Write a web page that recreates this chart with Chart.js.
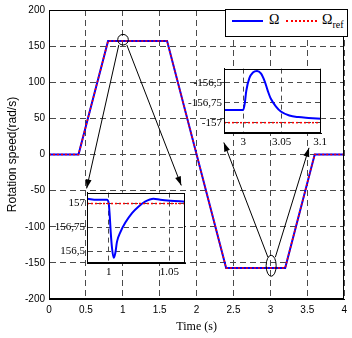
<!DOCTYPE html>
<html>
<head>
<meta charset="utf-8">
<script src="https://cdn.jsdelivr.net/npm/chart.js@4"></script>
<style>
  html, body { margin: 0; padding: 0; background: #fff; }
  #wrap { position: relative; width: 352px; height: 338px; }
  canvas { position: absolute; }
  #legend { position: absolute; left: 225px; top: 9px; width: 121px; height: 26px;
            border: 1px solid #000; background: #fff; font-family: 'Liberation Serif', serif; font-size: 14px; }
  #legend .ln { position: absolute; top: 10px; width: 31px; height: 0; }
  #legend .lb { position: absolute; top: 2px; line-height: 16px; }
  #legend sub { font-size: 10px; vertical-align: -4px; }
</style>
</head>
<body>
<div id="wrap">
  <canvas id="main" width="352" height="338" style="left:0;top:0"></canvas>
  <canvas id="zoomNeg" width="142" height="92" style="left:188px;top:60px"></canvas>
  <canvas id="zoomPos" width="140" height="98" style="left:50px;top:184px"></canvas>
  <div id="legend">
    <span class="ln" style="left:6px;border-top:2px solid #0000ff"></span>
    <span class="lb" style="left:43px">&Omega;</span>
    <span class="ln" style="left:60px;border-top:2px dotted #ff0000"></span>
    <span class="lb" style="left:96px">&Omega;<sub>ref</sub></span>
  </div>
</div>
<script>
// speed profile, whole run
const timeKnots = [0, 0.4, 0.8, 1.6, 2.4, 3.2, 3.6, 4];
const omegaRef  = [0, 0, 157, 157, -157, -157, 0, 0];
const omega     = [0, 0, 157, 157, -157, -157, 0, 0];
const xTicks = [0, 0.5, 1, 1.5, 2, 2.5, 3, 3.5, 4];
const yTicks = [-200, -150, -100, -50, 0, 50, 100, 150, 200];

// zoom near t = 1 s (reference step to +157)
const posTime  = [0.9825, 0.990, 0.9985, 1.0, 1.0008, 1.0016, 1.0027, 1.004, 1.0054, 1.0068, 1.0096,
                  1.0137, 1.0192, 1.0247, 1.030, 1.037, 1.0425, 1.0508, 1.063];
const posOmega = [157.05, 157.04, 157.04, 157.0, 156.87, 156.70, 156.53, 156.43, 156.48, 156.60, 156.70,
                  156.80, 156.90, 156.97, 157.02, 157.05, 157.04, 157.03, 157.02];
const posRef   = 157;
const posXTicks = [1, 1.05];
const posYTicks = [156.5, 156.75, 157];

// zoom near t = 3 s (reference at -157)
const negTime  = [2.975, 3.0, 3.002, 3.004, 3.008, 3.0126, 3.018, 3.023, 3.028, 3.032, 3.036,
                  3.043, 3.049, 3.06, 3.072, 3.085, 3.1015];
const negOmega = [-156.84, -156.84, -156.76, -156.60, -156.44, -156.37, -156.35, -156.38, -156.48, -156.60, -156.70,
                  -156.80, -156.86, -156.91, -156.93, -156.94, -156.95];
const negRef   = -157;
const negXTicks = [3, 3.05, 3.1];
const negYTicks = [-157, -156.75, -156.5];

const pts = (xs, ys) => xs.map((x, i) => ({ x: x, y: ys[i] }));
const setTicks = vals => s => { s.ticks = vals.map(v => ({ value: v })); };

// frame around plot area (and white fill for the insets)
const framePlugin = {
  id: 'frame',
  beforeDraw(chart, args, opts) {
    if (!opts.fill) return;
    const a = chart.chartArea, c = chart.ctx;
    c.save(); c.fillStyle = '#fff';
    c.fillRect(a.left, a.top, a.right - a.left, a.bottom - a.top);
    c.restore();
  },
  afterDraw(chart) {
    const a = chart.chartArea, c = chart.ctx;
    c.save(); c.strokeStyle = '#000'; c.lineWidth = 1;
    c.strokeRect(Math.round(a.left) + 0.5, Math.round(a.top) + 0.5,
                 Math.round(a.right - a.left) - 1, Math.round(a.bottom - a.top) - 1);
    c.restore();
  }
};

// ellipses and arrows pointing at the insets (main data coordinates)
const circles = [ { x: 1.003, y: 158.9, rx: 5.3, ry: 5.3 }, { x: 3.01, y: -154, rx: 5, ry: 10.5 } ];
const arrows = [
  [0.946, 151.7, 0.510, -46.9],
  [1.054, 151.7, 1.792, -42.8],
  [2.966, -142.1, 2.369, 16.6],
  [3.067, -142.1, 3.523, 9.2]
];
const calloutPlugin = {
  id: 'callout',
  afterDatasetsDraw(chart) {
    const c = chart.ctx, xs = chart.scales.x, ys = chart.scales.y;
    c.save();
    c.strokeStyle = '#000'; c.fillStyle = '#000'; c.lineWidth = 1;
    circles.forEach(e => {
      c.beginPath();
      c.ellipse(xs.getPixelForValue(e.x), ys.getPixelForValue(e.y), e.rx, e.ry, 0, 0, Math.PI * 2);
      c.stroke();
    });
    arrows.forEach(a => {
      const x1 = xs.getPixelForValue(a[0]), y1 = ys.getPixelForValue(a[1]);
      const x2 = xs.getPixelForValue(a[2]), y2 = ys.getPixelForValue(a[3]);
      const ang = Math.atan2(y2 - y1, x2 - x1);
      c.beginPath(); c.moveTo(x1, y1); c.lineTo(x2, y2); c.stroke();
      c.beginPath();
      c.moveTo(x2, y2);
      c.lineTo(x2 - 9 * Math.cos(ang) + 3 * Math.sin(ang), y2 - 9 * Math.sin(ang) - 3 * Math.cos(ang));
      c.lineTo(x2 - 9 * Math.cos(ang) - 3 * Math.sin(ang), y2 - 9 * Math.sin(ang) + 3 * Math.cos(ang));
      c.closePath(); c.fill();
    });
    c.restore();
  }
};

const gridStyle = { color: '#4a4a4a', lineWidth: 1, drawTicks: false };
const mainFont = { family: 'Liberation Sans', size: 10 };

new Chart(document.getElementById('main'), {
  type: 'line',
  data: {
    datasets: [
      { label: 'Ωref', data: pts(timeKnots, omegaRef), borderColor: '#ff0000', borderWidth: 1.5,
        borderDash: [2, 2], pointRadius: 0, order: 0 },
      { label: 'Ω', data: pts(timeKnots, omega), borderColor: '#0000ff', borderWidth: 2,
        pointRadius: 0, order: 1 }
    ]
  },
  options: {
    responsive: false,
    animation: false,
    layout: { padding: { left: 0, top: 9, right: 5, bottom: 0 } },
    plugins: { legend: { display: false }, tooltip: { enabled: false } },
    scales: {
      x: {
        type: 'linear', min: 0, max: 4,
        afterBuildTicks: setTicks(xTicks),
        afterFit: s => { s.height = 39; },
        grid: gridStyle,
        border: { color: '#000', dash: [6, 4] },
        ticks: { font: mainFont, color: '#000', padding: 5, maxRotation: 0, callback: v => String(v) },
        title: { display: true, text: 'Time (s)', color: '#000',
                 font: { family: 'Liberation Serif', size: 12 }, padding: { top: 0, bottom: 4 } }
      },
      y: {
        type: 'linear', min: -200, max: 200,
        afterBuildTicks: setTicks(yTicks),
        afterFit: s => { s.width = 49; },
        grid: gridStyle,
        border: { color: '#000', dash: [6, 4] },
        ticks: { font: mainFont, color: '#000', padding: 4, callback: v => String(v) },
        title: { display: true, text: 'Rotation speed(rad/s)', color: '#000',
                 font: { family: 'Liberation Sans', size: 12 }, padding: { top: 5, bottom: 0 } }
      }
    }
  },
  plugins: [framePlugin, calloutPlugin]
});

function makeInset(id, xs, ys, ref, xr, yr, xt, yt, box) {
  const insetFont = { family: 'Liberation Serif', size: 11 };
  return new Chart(document.getElementById(id), {
    type: 'line',
    data: {
      datasets: [
        { data: pts([xr[0], xr[1]], [ref, ref]), borderColor: '#ff0000', borderWidth: 1.5,
          borderDash: [2, 2], pointRadius: 0, order: 0 },
        { data: pts(xs, ys), borderColor: '#0000ff', borderWidth: 2, pointRadius: 0,
          cubicInterpolationMode: 'monotone', order: 1 }
      ]
    },
    options: {
      responsive: false,
      animation: false,
      layout: { padding: { left: 0, top: box.top, right: box.right, bottom: 0 } },
      plugins: { legend: { display: false }, tooltip: { enabled: false }, frame: { fill: true } },
      scales: {
        x: {
          type: 'linear', min: xr[0], max: xr[1],
          afterBuildTicks: setTicks(xt),
          afterFit: s => { s.height = box.xh; },
          grid: gridStyle,
          border: { color: '#000', dash: [5, 4] },
          ticks: { font: insetFont, color: '#000', padding: 3, maxRotation: 0,
                   callback: v => String(v) }
        },
        y: {
          type: 'linear', min: yr[0], max: yr[1],
          afterBuildTicks: setTicks(yt),
          afterFit: s => { s.width = box.yw; },
          grid: gridStyle,
          border: { color: '#000', dash: [5, 4] },
          ticks: { font: insetFont, color: '#000', padding: 2,
                   callback: v => String(v).replace('.', ',') }
        }
      }
    },
    plugins: [framePlugin]
  });
}

makeInset('zoomNeg', negTime, negOmega, negRef, [2.975, 3.1015], [-157.13, -156.32],
          negXTicks, negYTicks, { top: 5, right: 8, xh: 19, yw: 36 });
makeInset('zoomPos', posTime, posOmega, posRef, [0.982, 1.063], [156.375, 157.115],
          posXTicks, posYTicks, { top: 4, right: 5, xh: 19, yw: 37 });
</script>
</body>
</html>
